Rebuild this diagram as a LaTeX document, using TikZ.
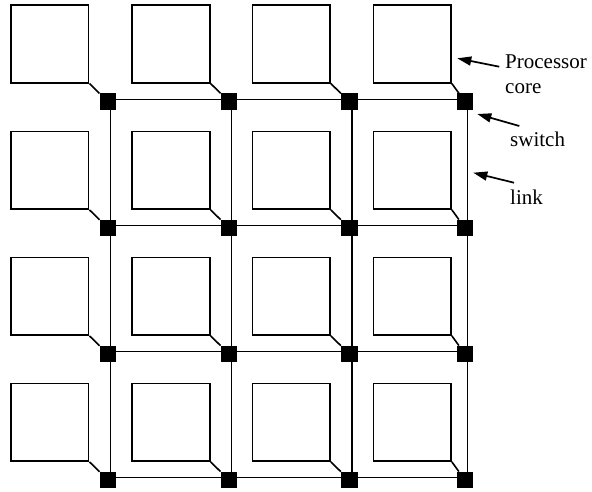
\documentclass[tikz,border=0pt]{standalone}
\usepackage{fontspec}
\setmainfont{Liberation Serif}
\usetikzlibrary{arrows.meta}

\begin{document}
\begin{tikzpicture}[
  x=1pt, y=-1pt,
  >={Triangle[length=14pt, width=9pt]},
  core/.style={draw, line width=1.8pt, minimum size=77.5pt, inner sep=0pt},
  switchbox/.style={fill=black, minimum size=16.5pt, inner sep=0pt},
  link/.style={line width=1.6pt},
  pointer/.style={->, line width=1.7pt},
  caption/.style={font=\fontsize{21}{25}\selectfont, inner sep=0pt, anchor=base west},
]
\useasboundingbox (0,0) rectangle (592,491);

%% ─── grid ───────────────────────────────────────────────────
%%  4 x 4 tiles, y grows downwards (pixel-like units)
%%  every core sits up-left of its switch

% ── processor cores ─────────────────────────────────────────
\foreach \cx [count=\i] in {49.8,171,291.2,412.2}
  \foreach \cy [count=\j] in {43.9,170.2,296.2,422.2}
    \node[core] (p\i\j) at (\cx,\cy) {};

% ── switches (+ the point where the links cross them) ───────
\foreach \sx [count=\i] in {108,229,349.3,465}
  \foreach \sy [count=\j] in {101.7,228,354,480}
  {
    \node[switchbox] (sw\i\j) at (\sx,\sy) {};
    \coordinate (n\i\j) at (\sx+2.6,\sy-2.4);
  }

% ── core -> switch stubs ────────────────────────────────────
\foreach \i in {1,...,4}
  \foreach \j in {1,...,4}
    \draw[link] (p\i\j.south east) -- (sw\i\j);

% ── links: rows, then columns ───────────────────────────────
\foreach \j in {1,...,4}
  \draw[link] (n1\j) -- (n2\j) -- (n3\j) -- (n4\j);
\foreach \i in {1,...,4}
  \draw[link] (n\i1) -- (n\i2) -- (n\i3) -- (n\i4);


% ════════════════════════════════════════════════════════════
%  labels
% ════════════════════════════════════════════════════════════

\node[caption] (proc)    at (505,68.3)  {Processor};
\node[caption] (corelbl) at (505,93.3)  {core};
\node[caption] (swlbl)   at (510,146.7) {switch};
\node[caption] (linklbl) at (510,204)   {link};

% arrow tips
\coordinate (coretip) at (457.3,58.3);
\coordinate (swtip)   at (477.3,114);
\coordinate (linktip) at (473.3,172.7);

\draw[pointer] ([shift={(-5.7,-1.6)}]proc.base west)   -- (coretip);
\draw[pointer] ([shift={(9.3,-20.7)}]swlbl.base west)  -- (swtip);
\draw[pointer] ([shift={(4,-21.3)}]linklbl.base west)  -- (linktip);

\end{tikzpicture}
\end{document}
